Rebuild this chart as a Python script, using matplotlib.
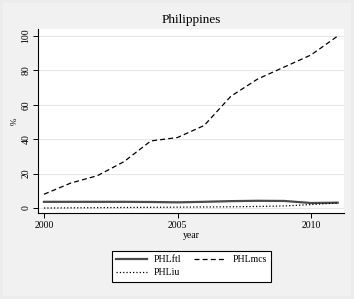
import numpy as np
import matplotlib
matplotlib.use("Agg")
import matplotlib.pyplot as plt
from matplotlib.patches import Rectangle

# data (Philippines)
years = [2000, 2001, 2002, 2003, 2004, 2005, 2006, 2007, 2008, 2009, 2010, 2011]
phl_ftl = [3.6, 3.6, 3.6, 3.6, 3.5, 3.3, 3.6, 4.0, 4.2, 4.1, 2.9, 3.1]
phl_mcs = [8.0, 14.5, 18.8, 27.0, 39.0, 41.0, 48.0, 65.0, 75.0, 82.0, 89.0, 100.0]
phl_iu = [0.0, 0.1, 0.2, 0.3, 0.4, 0.5, 0.6, 0.7, 0.9, 1.2, 2.0, 2.9]

xticks = [2000, 2005, 2010]
yticks = [0, 20, 40, 60, 80, 100]

plt.rcParams['font.family'] = ['Liberation Serif', 'DejaVu Serif']

W, H = 354, 299
fig = plt.figure(figsize=(W / 100, H / 100), dpi=100, facecolor='#ececec')
# lighter inner graph region
fig.patches.append(Rectangle((3 / W, 3 / H), 1 - 6 / W, 1 - 6 / H,
                             transform=fig.transFigure, facecolor='#f1f1f1',
                             edgecolor='none', zorder=-10))

ax = fig.add_axes([38 / W, 1 - 213 / H, (344 - 38) / W, (213 - 29) / H])
ax.set_facecolor('white')

ax.plot(years, phl_ftl, '-', color='#4a4a4a', lw=1.6, label='PHLftl')
ax.plot(years, phl_mcs, '--', color='black', lw=0.9, dashes=(4, 2.5), label='PHLmcs')
ax.plot(years, phl_iu, ':', color='black', lw=0.9, label='PHLiu')

ax.set_xlim(1999.775, 2011.236)
ax.set_ylim(-2.9, 104.1)
ax.set_xticks(xticks)
ax.set_yticks(yticks)
ax.set_yticklabels([str(t) for t in yticks], rotation=90, va='center')
ax.tick_params(labelsize=7, length=3.5, width=0.7, pad=2)
ax.grid(True, axis='y', color='#e6e6e6', lw=0.8)
ax.set_axisbelow(True)

for s in ['top', 'right']:
    ax.spines[s].set_visible(False)
for s in ['left', 'bottom']:
    ax.spines[s].set_linewidth(0.8)

ax.set_xlabel('year', fontsize=7, labelpad=1)
ax.set_ylabel('%', fontsize=6.5, labelpad=2)
ax.set_title('Philippines', fontsize=9.5, pad=4)

h, l = ax.get_legend_handles_labels()
order = [0, 2, 1]
leg = fig.legend([h[i] for i in order], [l[i] for i in order], ncol=2,
                 loc='upper center', bbox_to_anchor=(191.5 / W, 1 - 246 / H),
                 fontsize=7, frameon=True, fancybox=False, edgecolor='black',
                 framealpha=1, handlelength=3.2, columnspacing=1.3,
                 labelspacing=0.4, borderpad=0.45, handletextpad=0.7)
leg.get_frame().set_linewidth(0.8)

fig.savefig('out.png', dpi=100, facecolor=fig.get_facecolor())
